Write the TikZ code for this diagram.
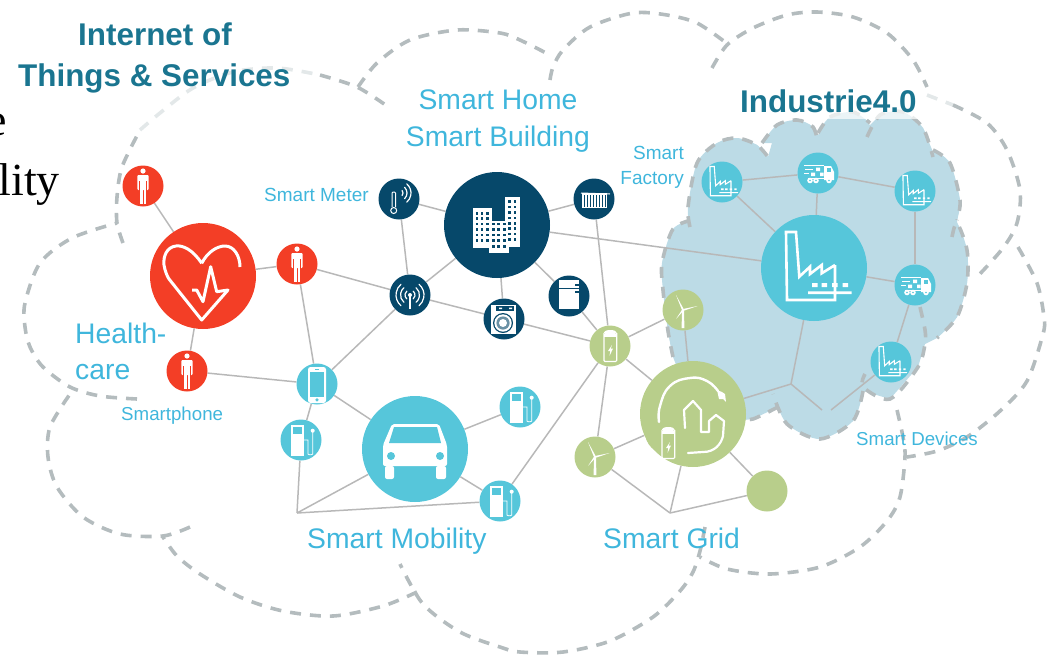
\documentclass[tikz,border=0pt]{standalone}
\usepackage{fontspec}
\setmainfont{Liberation Sans}
\newfontfamily\tmsfont{Liberation Serif}
\newcommand{\fsz}[1]{\fontsize{#1}{#1}\selectfont}
\definecolor{cteal}{HTML}{56C6DA}
\definecolor{cdark}{HTML}{06486A}
\definecolor{cred}{HTML}{F33E26}
\definecolor{cgreen}{HTML}{B8CE8B}
\definecolor{cblob}{HTML}{BCDBE6}
\definecolor{clink}{HTML}{B8B8B8}
\definecolor{cdash}{HTML}{B4BCBE}
\definecolor{cfade}{HTML}{E3E8E9}
\definecolor{clabel}{HTML}{3FB6DC}
\definecolor{ctitle}{HTML}{1A7590}
\pgfdeclarelayer{back}
\pgfdeclarelayer{edges}
\pgfsetlayers{back,edges,main}
\tikzset{
  x=1pt,y=-1pt,
  link/.style={draw=clink,line width=1.5pt},
  cloudarc/.style={draw=cdash,line width=3.6pt,dash pattern=on 11pt off 9pt},
  fadearc/.style={draw=cfade,line width=3.6pt,dash pattern=on 11pt off 9pt},
  bigc/.style={circle,inner sep=0pt,minimum size=106pt},
  smallc/.style={circle,inner sep=0pt,minimum size=41pt},
  lab/.style={text=clabel,inner sep=0pt},
  ttl/.style={text=ctitle,inner sep=0pt,font=\bfseries},
  personicon/.pic={
    \fill[white] (0,-15) circle (2.6);
    \fill[white,rounded corners=1] (-5.7,-11) rectangle (5.7,4);
    \fill[white] (-3.4,3) rectangle (-0.5,18);
    \fill[white] (0.5,3) rectangle (3.4,18);
    \draw[cred,line width=.7pt] (-3.7,-5) -- (-3.7,4.5) (3.7,-5) -- (3.7,4.5);
  },
  hearticon/.pic={
    \draw[white,line width=3pt,line join=round]
      (-1.3,-12.7) .. controls (-10,-26) and (-20,-31) .. (-27,-30)
      .. controls (-36,-29) and (-40,-20) .. (-39,-11)
      .. controls (-38,-5) and (-36,0) .. (-34,3)
      -- (-1.3,44) -- (25,14) -- (13.7,15.7) -- (7.7,-9.3) -- (0,25.7) -- (-6.3,14) -- (-11,14)
      (-1.3,-12.7) .. controls (5,-25) and (15,-30) .. (22,-30)
      .. controls (31,-30) and (37,-20) .. (37,-9);
  },
  buildingicon/.pic={
    \fill[white] (-24,-17) rectangle (-5,23);
    \fill[white] (-8,-4) rectangle (12,28);
    \fill[white] (8,-28) rectangle (23,22);
    \foreach \u in {-20,-15,-9.5}{\foreach \v in {-11.7,-6.3,-0.9,4.5,9.9,15.3}{
      \fill[cdark] (\u-1.3,\v-1.3) rectangle (\u+1.3,\v+1.3);}}
    \foreach \u in {-3.3,1.7,7.3}{\foreach \v in {-0.9,4.5,9.9,15.3,21.5}{
      \fill[cdark] (\u-1.3,\v-1.3) rectangle (\u+1.3,\v+1.3);}}
    \foreach \u in {12.5,18}{\foreach \v in {-23.3,-17.9,-12.5,-7.1,-1.7,3.7,9.1,14.5}{
      \fill[cdark] (\u-1.3,\v-1.3) rectangle (\u+1.3,\v+1.3);}}
  },
  metericon/.pic={
    \draw[white,line width=1pt,rounded corners=1] (-7,8) -- (-7,-7) -- (-3.5,-7) -- (-3.5,8);
    \draw[white,line width=1pt] (-5.3,11.5) circle (3);
    \draw[white,line width=1.2pt,line cap=round]
      ([shift={(-40:4)}]0,-6) arc[start angle=-40,end angle=40,radius=4]
      ([shift={(-45:8)}]0,-6) arc[start angle=-45,end angle=45,radius=8]
      ([shift={(-50:12)}]0,-6) arc[start angle=-50,end angle=50,radius=12];
  },
  antennaicon/.pic={
    \fill[white] (0,0) circle (2);
    \draw[white,line width=1.4pt] (0,0) -- (0,14);
    \draw[white,line width=1.2pt,line cap=round]
      ([shift={(-50:5)}]0,0) arc[start angle=-50,end angle=50,radius=5]
      ([shift={(-50:9.5)}]0,0) arc[start angle=-50,end angle=50,radius=9.5]
      ([shift={(-50:14)}]0,0) arc[start angle=-50,end angle=50,radius=14]
      ([shift={(130:5)}]0,0) arc[start angle=130,end angle=230,radius=5]
      ([shift={(130:9.5)}]0,0) arc[start angle=130,end angle=230,radius=9.5]
      ([shift={(130:14)}]0,0) arc[start angle=130,end angle=230,radius=14];
  },
  radiatoricon/.pic={
    \fill[white] (-12,-6) rectangle (13,9);
    \draw[white,line width=1pt] (-13,-6) -- (16,-5);
    \foreach \u in {-9.5,-6.5,-3.5,-0.5,2.5,5.5,8.5,11}{
      \draw[cdark,line width=.9pt] (\u,-4) -- (\u,8);}
  },
  washericon/.pic={
    \fill[white] (-13,-14) rectangle (12,15);
    \fill[cdark] (-8,-13) rectangle (10,-8.5);
    \fill[white] (-5,-11.5) rectangle (-2,-10) (5,-11.5) rectangle (8,-10);
    \fill[cdark] (-1,4) circle (10);
    \fill[white] (-1,4) circle (8.7);
    \fill[cdark!60] (-1,4) circle (6.6);
    \fill[white] (-1,4) circle (4);
  },
  fridgeicon/.pic={
    \fill[white] (-10,-16) rectangle (10,13);
    \draw[cdark,line width=1pt] (-10,-7.5) -- (10,-7.5);
    \draw[cdark,line width=1.2pt] (6,-11) -- (11,-11) (6,-4) -- (11,-4);
  },
  phoneicon/.pic={
    \fill[white,rounded corners=2.5] (-9,-17) rectangle (9,19);
    \fill[cteal] (-6.7,-12) rectangle (6.7,12.5);
    \fill[cteal] (0,15.8) circle (1.8);
    \draw[cteal,line width=.6pt] (-2,-14.5) -- (2,-14.5);
  },
  pumpicon/.pic={
    \fill[white] (-10,-15) rectangle (3,16);
    \fill[cteal] (-7.7,-12.7) rectangle (1,-6);
    \fill[white] (11.7,-9.3) circle (2);
    \draw[white,line width=.8pt] (3,0) -- (7,0) -- (7,14) .. controls (7,15) and (11.7,15) .. (11.7,14) -- (11.7,-8);
  },
  caricon/.pic={
    \fill[white,rounded corners=2] (-23,-25) -- (24,-25) -- (32,-4) -- (32,17) -- (-32,17) -- (-32,-4) -- cycle;
    \fill[white,rounded corners=2] (-30,17) rectangle (-21,30);
    \fill[white,rounded corners=2] (21,17) rectangle (31,30);
    \fill[cteal] (-21,-22) -- (22,-22) -- (26,-6) -- (-26,-6) -- cycle;
    \fill[cteal] (-24,7) circle (4);
    \fill[cteal] (25,7) circle (4);
  },
  batteryicon/.pic={
    \draw[white,line width=1.1pt,rounded corners=1] (-6,-13) -- (-6,15.5) -- (6.7,15.5) -- (6.7,-13);
    \fill[white] (-6.5,-12) rectangle (7.2,-9);
    \fill[white] (0.3,-13.5) ellipse (6.4 and 2.5);
    \fill[white] (2,-1) -- (-2,5) -- (0.3,5) -- (-0.5,10) -- (3,2.5) -- (0.8,2.5) -- cycle;
  },
  turbineicon/.pic={
    \fill[white] (-1,0) -- (1,0) -- (1.4,18) -- (-1.4,18) -- cycle;
    \fill[white] (-0.8,0.6) -- (-7,-15) -- (0.8,-0.6) -- cycle;
    \fill[white] (0,-1) -- (14.5,-4) -- (0,1) -- cycle;
    \fill[white] (-1,-0.2) -- (-7,9) -- (1,0.2) -- cycle;
  },
  gridicon/.pic={
    \draw[white,line width=2.4pt,line cap=round] plot[smooth,tension=.8] coordinates
      {(-34,8) (-33,-8) (-23,-28) (-3,-36) (14,-33) (25,-23)};
    \fill[white] (24,-24) -- (29,-22) -- (32,-20) -- (33,-12) -- (30,-15) -- (26,-15) -- cycle;
    \draw[white,line width=2.2pt,line join=round,line cap=round]
      (-8,14) -- (-9,-4) -- (0,-13) -- (8,-4) -- (8,18) -- (16,18) -- (16,7) -- (23,1) -- (31,7)
      -- (30,22) .. controls (28,30) and (22,38) .. (10,38) -- (-5,39);
  },
  factoryicon/.pic={
    \draw[white,line join=miter]
      (21,-3) -- (21,32) -- (-27,32) -- (-28,-36) -- (-18,-36) -- (-14.7,8.7)
      -- (-4,-1.3) -- (-4,6) -- (7.7,-3) -- (7.7,5.3) -- (21,-3)
      (-6,24.7) -- (37.7,24.7);
    \fill[white] (-2,15) rectangle (3.5,19) (7.5,15) rectangle (13,19)
      (18,15) rectangle (23.5,19) (28.5,15) rectangle (34,19);
  },
  truckicon/.pic={
    \fill[white] (6,-7) -- (13,-7) -- (16,-1) -- (16,7) -- (6,7) -- cycle;
    \fill[cteal] (8.5,-5) rectangle (13,-1);
    \draw[white,line width=.9pt] (-14,-8) -- (6,-8) (-13,-4) -- (-5,-4) (-14,0) -- (-9,0) (-10,5.5) -- (6,5.5);
    \fill[white] (-2,-5.5) rectangle (2,-2) (-7,-0.5) rectangle (-3,3) (2,-0.5) rectangle (5.5,3);
    \foreach \u in {-8,-2,11}{
      \fill[white] (\u,7.5) circle (2.8);
      \fill[cteal] (\u,7.5) circle (.9);}
  }
}
\begin{document}
\begin{tikzpicture}
\useasboundingbox (0,0) rectangle (1049,654);

% ---------- clouds and the blue region
\begin{pgfonlayer}{back}
  % outer cloud
  \draw[cloudarc] plot[smooth] coordinates {(123,243) (117,223) (117,197) (122,167) (140,130)};
  \draw[fadearc]  plot[smooth] coordinates {(140,130) (160,113) (193,88) (233,72) (277,68) (320,75)};
  \draw[cloudarc] plot[smooth] coordinates {(320,75) (357,87) (387,106)};
  \draw[cloudarc] plot[smooth] coordinates {(358,87) (377,63) (410,40) (457,30) (500,33) (520,40) (550,55)};
  \draw[cloudarc] plot[smooth] coordinates {(550,80) (553,67) (563,50) (590,27) (633,13) (667,15) (697,23) (725,42)};
  \draw[cloudarc] plot[smooth] coordinates {(712,68) (727,45) (753,28) (787,15) (817,12) (853,17) (887,33) (913,60) (927,87)};
  \draw[fadearc]  plot[smooth] coordinates {(927,95) (953,105)};
  \draw[cloudarc] plot[smooth] coordinates {(953,105) (987,123) (1007,150) (1020,190) (1017,223) (1003,248) (977,277)};
  \draw[cloudarc] plot[smooth] coordinates {(1018,247) (1037,283) (1044,317) (1043,334) (1027,381) (1000,411) (967,437) (937,451) (907,457)};
  \draw[cloudarc] plot[smooth] coordinates {(897,410) (903,437) (905,457) (900,497) (887,521) (860,547) (820,567) (770,574) (727,569) (700,557)};
  \draw[cloudarc] plot[smooth] coordinates {(705,527) (700,551) (693,572) (680,591) (653,617) (610,641) (563,652) (520,652) (500,647) (460,632) (423,604) (400,564)};
  \draw[cloudarc] plot[smooth] coordinates {(417,592) (383,606) (333,616) (283,611) (240,597) (200,574) (177,556) (163,537)};
  \draw[cloudarc] plot[smooth] coordinates {(190,527) (163,536) (120,534) (83,517) (57,487) (48,457) (50,427) (70,394)};
  \draw[cloudarc] plot[smooth] coordinates {(137,399) (100,396) (70,387) (43,367) (30,347) (25,327) (25,303) (40,263) (72,238) (117,223)};
  % blue region
  \fill[cblob] (673,357) -- (668,331) -- (663,290) -- (662,263) -- (673,229) -- (690,222) -- (688,207) -- (697,163) -- (717,143) -- (737,138) -- (757,145) -- (768,157) -- (777,125) -- (797,120) -- (813,127) -- (818,135) -- (830,117) -- (853,112) -- (870,125) -- (880,115) -- (903,112) -- (923,128) -- (933,152) -- (950,163) -- (960,200) -- (957,222) -- (967,250) -- (967,283) -- (957,317) -- (937,338) -- (925,344) -- (918,367) -- (890,399) -- (863,391) -- (853,421) -- (820,439) -- (787,424) -- (778,407) -- (753,419) -- (700,425) -- cycle;
  \draw[cloudarc,fill=cblob] plot[smooth] coordinates {(673,357) (668,331) (663,290) (662,263) (673,229) (692,220)};
  \draw[cloudarc,fill=cblob] plot[smooth] coordinates {(690,227) (688,207) (697,163) (717,143) (737,138) (757,145) (768,157)};
  \draw[cloudarc,fill=cblob] plot[smooth] coordinates {(762,143) (777,125) (797,120) (813,127) (818,143)};
  \draw[cloudarc,fill=cblob] plot[smooth] coordinates {(818,133) (830,117) (853,112) (870,123)};
  \draw[cloudarc,fill=cblob] plot[smooth] coordinates {(867,137) (880,115) (903,112) (923,128) (933,157)};
  \draw[cloudarc,fill=cblob] plot[smooth] coordinates {(933,150) (950,163) (960,200) (957,220)};
  \draw[cloudarc,fill=cblob] plot[smooth] coordinates {(952,237) (957,223) (967,250) (967,283) (957,317) (937,338)};
  \draw[cloudarc] plot[smooth] coordinates {(920,307) (925,330) (925,344) (918,367) (890,399) (863,387) (865,374)};
  \draw[cloudarc,fill=cblob] plot[smooth] coordinates {(863,391) (853,421) (820,439) (787,424) (773,394)};
  \draw[cloudarc] plot[smooth] coordinates {(778,407) (753,419) (740,419)};
  % haze over the top of the region, behind the title
  \fill[white,opacity=.7] (826,95) rectangle (925,119);
\end{pgfonlayer}

% ---------- hubs and satellites
\node[bigc,fill=cred]  (heart)    at (203,276) {};
\node[bigc,fill=cdark] (building) at (497,225) {};
\node[bigc,fill=cteal] (car)      at (415,449) {};
\node[bigc,fill=cteal] (factory)  at (814,268) {};
\fill[cgreen] (667,432) circle (22);
\node[bigc,fill=cgreen] (grid)    at (693,414) {};
\node[smallc,fill=cred]   (p1) at (143,186) {};
\node[smallc,fill=cred]   (p2) at (297,264) {};
\node[smallc,fill=cred]   (p3) at (187,371) {};
\node[smallc,fill=cdark]  (meter) at (399,199) {};
\node[smallc,fill=cdark]  (antenna) at (410,295) {};
\node[smallc,fill=cdark]  (radiator) at (594,199) {};
\node[smallc,fill=cdark]  (washer) at (504,319) {};
\node[smallc,fill=cdark]  (fridge) at (569,296) {};
\node[smallc,fill=cteal]  (phone) at (317,384) {};
\node[smallc,fill=cteal]  (pumpa) at (301,440) {};
\node[smallc,fill=cteal]  (pumpb) at (520,407) {};
\node[smallc,fill=cteal]  (pumpc) at (500,501) {};
\node[smallc,fill=cgreen] (battery) at (610,346) {};
\node[smallc,fill=cgreen] (turba) at (683,310) {};
\node[smallc,fill=cgreen] (turbb) at (595,457) {};
\node[smallc,fill=cgreen] (gdot) at (767,491) {};
\node[smallc,fill=cteal]  (fa) at (722,182) {};
\node[smallc,fill=cteal]  (ta) at (818,173) {};
\node[smallc,fill=cteal]  (fb) at (915,191) {};
\node[smallc,fill=cteal]  (tb) at (915,285) {};
\node[smallc,fill=cteal]  (fc) at (891,362) {};
\coordinate (jm) at (297,513);
\coordinate (jg) at (670,513);
\coordinate (ji) at (791,384);
\coordinate (jl) at (822,410);
\coordinate (jr) at (831,410);

% ---------- connectors
\begin{pgfonlayer}{edges}
  \draw[link] (p1) -- (heart);
  \draw[link] (heart) -- (p2);
  \draw[link] (heart) -- (p3);
  \draw[link] (p2) -- (antenna);
  \draw[link] (p2) -- (phone);
  \draw[link] (p3) -- (phone);
  \draw[link] (meter) -- (building);
  \draw[link] (meter) -- (antenna);
  \draw[link] (antenna) -- (building);
  \draw[link] (antenna) -- (phone);
  \draw[link] (antenna) -- (washer);
  \draw[link] (building) -- (radiator);
  \draw[link] (building) -- (washer);
  \draw[link] (building) -- (fridge);
  \draw[link] (building) -- (factory);
  \draw[link] (radiator) -- (battery);
  \draw[link] (fridge) -- (battery);
  \draw[link] (washer) -- (battery);
  \draw[link] (battery) -- (turba);
  \draw[link] (battery) -- (grid);
  \draw[link] (battery) -- (turbb);
  \draw[link] (battery) -- (pumpc);
  \draw[link] (phone) -- (car);
  \draw[link] (phone) -- (pumpa);
  \draw[link] (pumpa) -- (jm);
  \draw[link] (jm) -- (car);
  \draw[link] (jm) -- (pumpc);
  \draw[link] (car) -- (pumpb);
  \draw[link] (car) -- (pumpc);
  \draw[link] (turbb) -- (grid);
  \draw[link] (turbb) -- (jg);
  \draw[link] (grid) -- (jg);
  \draw[link] (jg) -- (gdot);
  \draw[link] (grid) -- (gdot);
  \draw[link] (turba) -- (grid);
  \draw[link] (factory) -- (fa);
  \draw[link] (factory) -- (ta);
  \draw[link] (fa) -- (ta);
  \draw[link] (ta) -- (fb);
  \draw[link] (fb) -- (tb);
  \draw[link] (factory) -- (tb);
  \draw[link] (tb) -- (fc);
  \draw[link] (factory) -- (ji);
  \draw[link] (ji) -- (grid);
  \draw[link] (ji) -- (jl);
  \draw[link] (jr) -- (fc);
\end{pgfonlayer}

% ---------- icons
\pic at (p1) {personicon};
\pic at (p2) {personicon};
\pic at (p3) {personicon};
\pic at (heart) {hearticon};
\pic at (building) {buildingicon};
\pic at (meter) {metericon};
\pic at (antenna) {antennaicon};
\pic at (radiator) {radiatoricon};
\pic at (washer) {washericon};
\pic at (fridge) {fridgeicon};
\pic at (phone) {phoneicon};
\pic at (pumpa) {pumpicon};
\pic at (pumpb) {pumpicon};
\pic at (pumpc) {pumpicon};
\pic at (car) {caricon};
\pic at (battery) {batteryicon};
\pic at (668,443) {batteryicon};
\pic at (turba) {turbineicon};
\pic at (turbb) {turbineicon};
\pic at (grid) {gridicon};
\pic[line width=2.6pt] at (factory) {factoryicon};
\pic[scale=.43,line width=1.1pt] at (fa) {factoryicon};
\pic[scale=.43,line width=1.1pt] at (fb) {factoryicon};
\pic[scale=.43,line width=1.1pt] at (fc) {factoryicon};
\pic at (ta) {truckicon};
\pic at (tb) {truckicon};

% ---------- labels
\node[ttl,anchor=base] (t1) at (155,45) {\fsz{31.4}Internet of};
\node[ttl,anchor=base west] (t2) at (18,86) {\fsz{31.4}Things \& Services};
\node[ttl,anchor=base west] (t3) at (740,112) {\fsz{31.4}Industrie4.0};
\node[lab,anchor=base] (l1) at (498,109) {\fsz{28.3}Smart Home};
\node[lab,anchor=base] (l2) at (498,146) {\fsz{28.3}Smart Building};
\node[lab,anchor=base west] (l3) at (264,201) {\fsz{19}Smart Meter};
\node[lab,anchor=base east] (l4) at (684,159) {\fsz{19}Smart};
\node[lab,anchor=base east] (l5) at (684,184) {\fsz{19}Factory};
\node[lab,anchor=base west] (l6) at (75,343) {\fsz{28.3}Health-};
\node[lab,anchor=base west] (l7) at (75,379) {\fsz{28.3}care};
\node[lab,anchor=base west] (l8) at (121,420) {\fsz{18.7}Smartphone};
\node[lab,anchor=base west] (l9) at (307,548) {\fsz{28.3}Smart Mobility};
\node[lab,anchor=base west] (l10) at (603,548) {\fsz{28.3}Smart Grid};
\node[lab,anchor=base west] (l11) at (856,445) {\fsz{18.7}Smart Devices};
\begin{scope}
  \clip (0,0) rectangle (1049,654);
  \node[anchor=base east,inner sep=0pt] (b1) at (7,135) {\tmsfont\fsz{46}e};
  \node[anchor=base east,inner sep=0pt] (b2) at (60,195) {\tmsfont\fsz{46}lity};
\end{scope}
\end{tikzpicture}
\end{document}
